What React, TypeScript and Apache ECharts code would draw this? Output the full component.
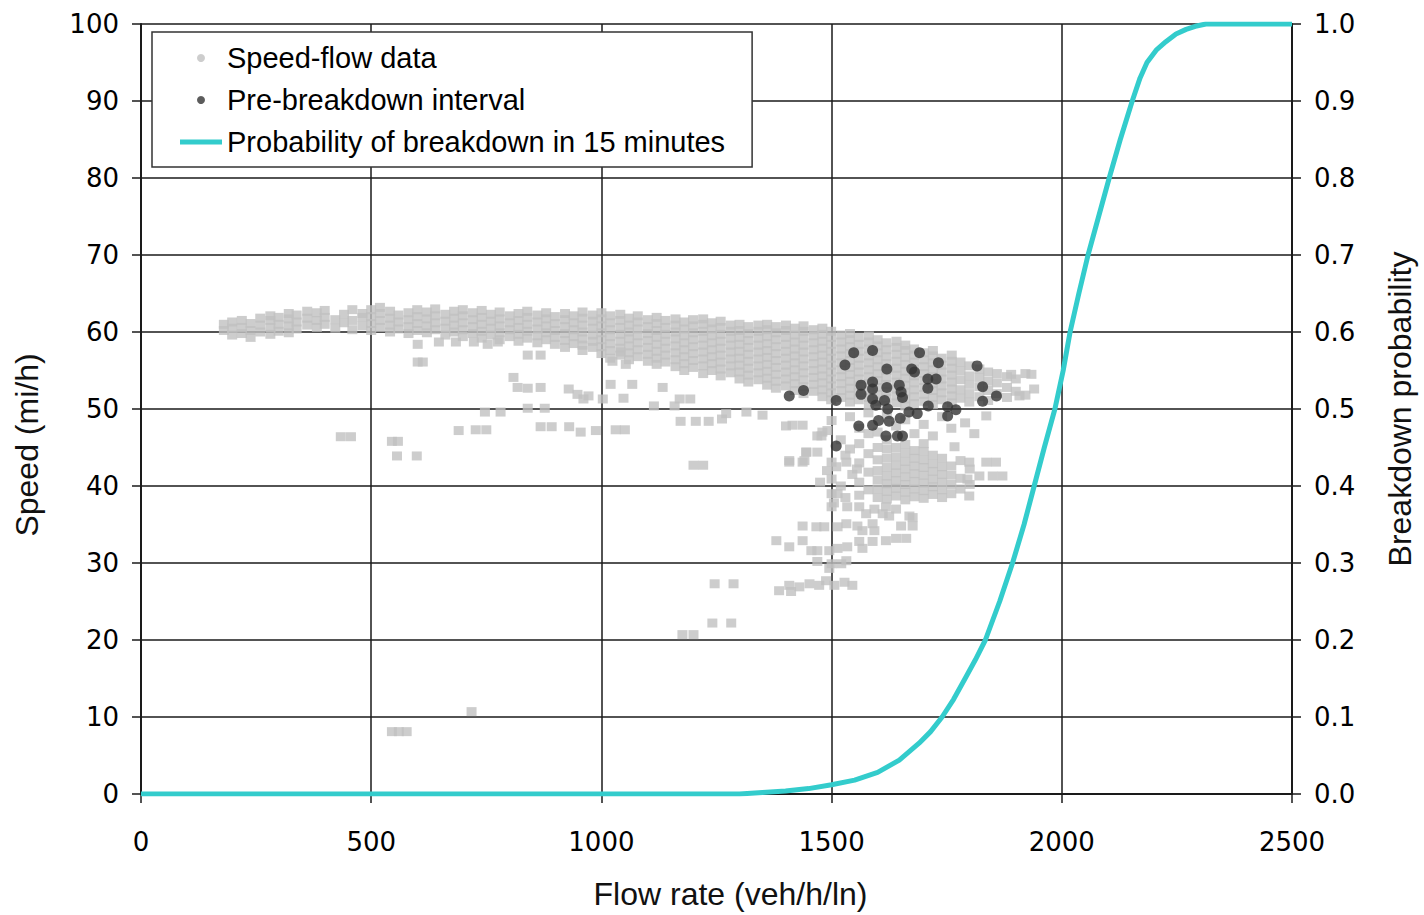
import React, { useEffect, useRef } from "react";
import * as echarts from "echarts";

// Main uncongested speed-flow band: [flow, speeds at that flow]
const bandColumns: [number, number[]][] = [
  [180, [60.2, 61.0]],
  [198, [59.6, 60.5, 61.3]],
  [219, [59.8, 60.6, 61.5]],
  [238, [59.3, 60.2, 61.1]],
  [259, [60.0, 60.9, 61.8]],
  [281, [59.7, 60.6, 61.5, 62.1]],
  [299, [60.1, 61.0, 61.9]],
  [321, [59.9, 60.8, 61.7, 62.4]],
  [338, [60.4, 61.3, 62.2]],
  [361, [60.9, 61.8, 62.7]],
  [382, [60.6, 61.5, 62.5]],
  [399, [61.0, 61.9, 62.8]],
  [422, [60.5, 61.6]],
  [441, [61.2, 62.3]],
  [459, [60.3, 61.5, 62.9]],
  [481, [60.8, 61.9, 62.4]],
  [500, [60.2, 61.1, 62.0, 62.9]],
  [519, [60.6, 61.5, 62.4, 63.2]],
  [541, [60.0, 60.9, 61.8, 62.7]],
  [559, [60.4, 61.3, 62.2]],
  [581, [59.8, 60.7, 61.6, 62.5]],
  [600, [60.2, 61.1, 62.0, 62.9]],
  [621, [59.9, 60.8, 61.7, 62.6]],
  [639, [60.3, 61.2, 62.1, 63.0]],
  [661, [59.6, 60.5, 61.4, 62.3]],
  [680, [60.0, 60.9, 61.8, 62.7]],
  [699, [59.4, 60.3, 61.2, 62.1, 62.9]],
  [721, [59.8, 60.7, 61.6, 62.5]],
  [740, [59.2, 60.1, 61.0, 61.9, 62.8]],
  [760, [59.6, 60.5, 61.4, 62.3]],
  [779, [59.0, 59.9, 60.8, 61.7, 62.6]],
  [801, [59.4, 60.3, 61.2, 62.1]],
  [820, [58.8, 59.7, 60.6, 61.5, 62.4]],
  [839, [59.2, 60.1, 61.0, 61.9, 62.7]],
  [861, [58.6, 59.5, 60.4, 61.3, 62.2]],
  [880, [59.0, 59.9, 60.8, 61.7, 62.5]],
  [899, [58.4, 59.3, 60.2, 61.1, 62.0]],
  [921, [58.0, 58.9, 59.8, 60.7, 61.6, 62.4]],
  [940, [58.5, 59.4, 60.3, 61.2, 62.1]],
  [959, [57.6, 58.3, 59.1, 60.0, 60.9, 61.8, 62.6]],
  [981, [58.0, 58.8, 59.6, 60.5, 61.4, 62.2]],
  [1000, [57.2, 58.1, 59.0, 59.9, 60.8, 61.7, 62.5]],
  [1019, [56.6, 57.6, 58.5, 59.4, 60.3, 61.2, 62.1]],
  [1041, [57.0, 57.9, 58.8, 59.7, 60.6, 61.5, 62.3]],
  [1060, [56.4, 57.3, 58.2, 59.1, 60.0, 60.9, 61.8]],
  [1079, [56.8, 57.7, 58.6, 59.5, 60.4, 61.3, 62.1]],
  [1101, [56.2, 57.1, 58.0, 58.9, 59.8, 60.7, 61.6]],
  [1120, [55.8, 56.6, 57.5, 58.4, 59.3, 60.2, 61.1, 61.9]],
  [1139, [56.1, 57.0, 57.9, 58.8, 59.7, 60.6, 61.5]],
  [1161, [55.5, 56.4, 57.3, 58.2, 59.1, 60.0, 60.9, 61.7]],
  [1180, [55.0, 55.9, 56.8, 57.7, 58.6, 59.5, 60.4, 61.3]],
  [1199, [55.4, 56.3, 57.2, 58.1, 59.0, 59.9, 60.8, 61.6]],
  [1221, [54.6, 55.6, 56.5, 57.4, 58.3, 59.2, 60.1, 61.0, 61.7]],
  [1240, [55.0, 55.9, 56.8, 57.7, 58.6, 59.5, 60.4, 61.2]],
  [1259, [54.3, 55.2, 56.1, 57.0, 57.9, 58.8, 59.7, 60.6, 61.4]],
  [1281, [54.7, 55.6, 56.5, 57.4, 58.3, 59.2, 60.1, 60.9]],
  [1300, [53.9, 54.8, 55.7, 56.6, 57.5, 58.4, 59.3, 60.2, 61.0]],
  [1319, [53.5, 54.4, 55.3, 56.2, 57.1, 58.0, 58.9, 59.8, 60.7]],
  [1341, [53.8, 54.7, 55.6, 56.5, 57.4, 58.3, 59.2, 60.1, 60.9]],
  [1360, [53.1, 54.0, 54.9, 55.8, 56.7, 57.6, 58.5, 59.4, 60.3, 61.0]],
  [1379, [52.7, 53.6, 54.5, 55.4, 56.3, 57.2, 58.1, 59.0, 59.9, 60.7]],
  [1401, [53.0, 53.9, 54.8, 55.7, 56.6, 57.5, 58.4, 59.3, 60.2, 60.9]],
  [1420, [52.4, 53.3, 54.2, 55.1, 56.0, 56.9, 57.8, 58.7, 59.6, 60.5]],
  [1439, [52.0, 52.9, 53.8, 54.7, 55.6, 56.5, 57.4, 58.3, 59.2, 60.1, 60.8]],
  [1461, [52.3, 53.2, 54.1, 55.0, 55.9, 56.8, 57.7, 58.6, 59.5, 60.3]],
  [1480, [51.6, 52.5, 53.4, 54.3, 55.2, 56.1, 57.0, 57.9, 58.8, 59.7, 60.5]],
  [1499, [51.2, 52.1, 53.0, 53.9, 54.8, 55.7, 56.6, 57.5, 58.4, 59.3, 60.1]],
  [1521, [51.5, 52.4, 53.3, 54.2, 55.1, 56.0, 56.9, 57.8, 58.7, 59.6]],
  [1540, [50.9, 51.8, 52.7, 53.6, 54.5, 55.4, 56.3, 57.2, 58.1, 59.0, 59.8]],
  [1559, [51.2, 52.1, 53.0, 53.9, 54.8, 55.7, 56.6, 57.5, 58.4, 59.3]],
  [1581, [50.6, 51.5, 52.4, 53.3, 54.2, 55.1, 56.0, 56.9, 57.8, 58.7, 59.5]],
  [1600, [51.0, 51.9, 52.8, 53.7, 54.6, 55.5, 56.4, 57.3, 58.2, 59.0]],
  [1619, [50.5, 51.4, 52.3, 53.2, 54.1, 55.0, 55.9, 56.8, 57.7, 58.6]],
  [1641, [50.8, 51.7, 52.6, 53.5, 54.4, 55.3, 56.2, 57.1, 58.0, 58.8]],
  [1660, [50.4, 51.3, 52.2, 53.1, 54.0, 54.9, 55.8, 56.7, 57.6, 58.3]],
  [1679, [50.7, 51.6, 52.5, 53.4, 54.3, 55.2, 56.1, 57.0, 57.8]],
  [1701, [51.0, 51.9, 52.8, 53.7, 54.6, 55.5, 56.4, 57.3]],
  [1720, [50.6, 51.5, 52.4, 53.3, 54.2, 55.1, 56.0, 56.9, 57.6]],
  [1739, [51.2, 52.1, 53.0, 53.9, 54.8, 55.7, 56.6]],
  [1761, [50.8, 51.7, 52.6, 53.5, 54.4, 55.3, 56.2, 57.0]],
  [1780, [51.4, 52.5, 53.8, 55.0, 56.1]],
  [1799, [50.9, 52.0, 53.2, 54.3, 55.6]],
  [1821, [51.6, 52.9, 54.1, 55.2]],
  [1840, [51.1, 52.4, 53.6, 54.8]],
  [1859, [52.0, 53.4, 54.6]],
  [1881, [51.5, 52.8, 54.2]],
  [1900, [52.3, 53.9]],
  [1921, [51.8, 54.6]],
  [1940, [52.6]],
];

// Congested cluster (below the band): [flow, speeds]
const congestedColumns: [number, number[]][] = [
  [1560, [38.8, 40.5, 43.0, 45.5]],
  [1580, [39.5, 41.8, 44.2, 46.8]],
  [1600, [38.5, 39.6, 40.8, 42.0, 43.4, 45.0]],
  [1620, [38.3, 39.3, 40.3, 41.3, 42.4, 43.6, 44.8, 46.0]],
  [1640, [38.7, 39.7, 40.7, 41.7, 42.7, 43.8, 45.0]],
  [1660, [38.2, 39.2, 40.2, 41.2, 42.2, 43.2, 44.3, 45.4]],
  [1680, [38.6, 39.6, 40.6, 41.6, 42.6, 43.6, 44.6]],
  [1700, [38.4, 39.4, 40.4, 41.4, 42.4, 43.4, 44.5, 45.5]],
  [1720, [38.9, 39.9, 40.9, 41.9, 42.9, 44.0]],
  [1740, [38.5, 39.5, 40.5, 41.5, 42.5, 43.6]],
  [1760, [39.0, 40.2, 41.4, 42.6]],
  [1780, [39.6, 41.0, 43.3]],
  [1800, [40.2, 42.2]],
];

// Scattered speed-flow observations: [flow, speed]
const scatteredGray: [number, number][] = [
  [601, 58.4], [647, 58.7], [684, 58.7], [723, 58.7], [753, 58.4], [775, 58.7],
  [601, 56.1], [612, 56.1], [809, 54.1], [818, 52.8], [840, 52.7], [868, 52.8],
  [929, 52.6], [948, 51.9], [972, 51.7], [961, 51.3], [1003, 51.3], [1048, 51.4],
  [1020, 53.2], [1067, 53.2], [840, 57.0], [868, 57.0], [1024, 56.2], [1053, 55.8],
  [1042, 57.4], [747, 49.6], [781, 49.6], [840, 50.1], [877, 50.1], [690, 47.2],
  [727, 47.3], [750, 47.3], [868, 47.7], [892, 47.7], [930, 47.7], [955, 47.0],
  [988, 47.2], [1031, 47.3], [1051, 47.3], [1114, 50.4], [1159, 50.4], [1172, 48.4],
  [1205, 48.4], [1233, 48.4], [1262, 48.7], [1271, 49.4], [1200, 42.7], [1221, 42.7],
  [434, 46.4], [456, 46.4], [545, 45.8], [558, 45.8], [556, 43.9], [599, 43.9],
  [1246, 27.3], [1287, 27.3], [1241, 22.2], [1282, 22.2], [1176, 20.7], [1200, 20.7],
  [718, 10.7], [545, 8.1], [560, 8.1], [577, 8.1],
  [1133, 52.8], [1170, 51.3], [1193, 51.3], [1315, 49.6], [1350, 49.2], [1415, 47.9],
  [1437, 47.9], [1469, 46.5], [1445, 44.4], [1408, 43.1], [1437, 43.1], [1401, 47.8],
  [1890, 54.5], [1934, 54.5], [1908, 51.7], [1836, 49.1], [1857, 43.1], [1836, 43.1],
  [1871, 41.3], [1850, 41.3], [1821, 41.3], [1795, 40.9], [1799, 38.7], [1799, 43.1],
  [1767, 45.1], [1676, 35.9], [1662, 33.2],
  [1480, 47.0], [1500, 48.5], [1520, 46.0], [1540, 49.0], [1560, 47.5], [1580, 49.5],
  [1600, 47.0], [1620, 49.3], [1640, 47.8], [1660, 48.6], [1680, 46.8], [1700, 48.0],
  [1720, 46.5], [1740, 49.0], [1760, 47.5], [1790, 48.2], [1810, 46.8],
  [1475, 40.5], [1490, 42.0], [1520, 40.0], [1540, 44.8], [1530, 38.5], [1555, 42.2],
  [1505, 37.8], [1530, 44.0], [1545, 41.5], [1510, 42.5],
  [1408, 43.3], [1441, 43.3], [1445, 44.4], [1469, 44.4], [1478, 46.5], [1491, 47.2],
  [1500, 43.1], [1532, 43.1], [1500, 40.9], [1500, 39.0], [1513, 39.0], [1500, 37.3],
  [1534, 37.3], [1560, 37.3], [1575, 36.4], [1593, 37.0], [1618, 37.3], [1640, 37.0],
  [1611, 36.4], [1625, 36.1], [1669, 36.1], [1676, 34.8], [1651, 34.8], [1589, 35.1],
  [1556, 34.8], [1532, 35.1], [1513, 34.7], [1484, 34.7], [1467, 34.7], [1437, 34.8],
  [1567, 34.2], [1593, 34.2], [1640, 33.2], [1618, 32.9], [1589, 32.8], [1560, 32.8],
  [1534, 32.1], [1513, 31.9], [1495, 31.6], [1469, 31.6], [1456, 31.6], [1437, 32.9],
  [1408, 32.1], [1380, 32.9], [1567, 31.9], [1469, 30.2], [1500, 29.9], [1521, 29.9],
  [1532, 30.3], [1495, 29.3], [1488, 27.7], [1473, 27.1], [1452, 27.3], [1430, 26.9],
  [1408, 27.1], [1386, 26.4], [1412, 26.3], [1506, 27.1], [1528, 27.5], [1545, 27.1],
];

// Pre-breakdown intervals: [flow, speed]
const preBreakdown: [number, number][] = [
  [1408, 51.7], [1439, 52.4], [1529, 55.7], [1548, 57.3], [1589, 57.6], [1691, 57.3],
  [1620, 55.2], [1674, 55.2], [1680, 54.8], [1732, 56.0], [1816, 55.6], [1709, 53.9],
  [1727, 53.9], [1709, 52.7], [1828, 52.9], [1858, 51.7], [1828, 51.0], [1564, 53.1],
  [1589, 53.5], [1589, 52.6], [1620, 52.8], [1647, 53.1], [1651, 52.2], [1654, 51.5],
  [1564, 51.9], [1510, 51.1], [1589, 51.3], [1596, 50.5], [1615, 51.1], [1622, 50.0],
  [1668, 49.6], [1686, 49.4], [1710, 50.4], [1752, 50.3], [1770, 49.9], [1752, 49.1],
  [1559, 47.8], [1589, 47.9], [1602, 48.5], [1625, 48.4], [1649, 48.8], [1618, 46.5],
  [1643, 46.5], [1654, 46.5], [1510, 45.2],
];

// Probability of breakdown in 15 minutes
const probFlow = [0, 1300, 1350, 1400, 1450, 1500, 1550, 1600, 1647, 1690, 1715, 1740, 1765, 1790, 1812, 1834, 1865, 1893, 1918, 1940, 1962, 1985, 2003, 2018, 2037, 2057, 2080, 2103, 2127, 2153, 2170, 2185, 2205, 2226, 2248, 2270, 2290, 2313, 2500];
const probValue = [0, 0, 0.002, 0.004, 0.007, 0.012, 0.018, 0.028, 0.044, 0.066, 0.081, 0.1, 0.123, 0.15, 0.174, 0.2, 0.25, 0.3, 0.35, 0.4, 0.45, 0.5, 0.55, 0.6, 0.65, 0.7, 0.75, 0.8, 0.85, 0.9, 0.93, 0.95, 0.966, 0.977, 0.987, 0.993, 0.997, 1.0, 1.0];

const SERIES_GRAY = "Speed-flow data";
const SERIES_BLACK = "Pre-breakdown interval";
const SERIES_PROB = "Probability of breakdown in 15 minutes";

export default function App() {
  const ref = useRef<HTMLDivElement>(null);
  useEffect(() => {
    if (!ref.current) return;
    const chart = echarts.init(ref.current, undefined, { renderer: "svg" });
    const grayPts = [
      ...bandColumns.flatMap(([f, ss]) => ss.map((s) => [f, s])),
      ...congestedColumns.flatMap(([f, ss]) => ss.map((s) => [f, s])),
      ...scatteredGray,
    ];
    const probPts = probFlow.map((f, i) => [f, probValue[i]]);
    const tickFont = { fontFamily: "DejaVu Sans", fontSize: 26, color: "#000" };
    const nameFont = { fontFamily: "Liberation Sans", fontSize: 32, color: "#111" };
    const lineCol = "#1a1a1a";
    chart.setOption({
      animation: false,
      backgroundColor: "#fff",
      grid: { left: 141, right: 131, top: 24, bottom: 118 },
      legend: {
        orient: "vertical",
        left: 152,
        top: 32,
        padding: [10, 27, 9, 28],
        itemGap: 10,
        itemWidth: 42,
        itemHeight: 8,
        backgroundColor: "#fff",
        borderColor: "#333",
        borderWidth: 1.5,
        borderRadius: 0,
        textStyle: { fontFamily: "Liberation Sans", fontSize: 29, color: "#000", lineHeight: 32 },
        data: [
          { name: SERIES_GRAY, icon: "circle", itemStyle: { color: "#c0c0c0" } },
          { name: SERIES_BLACK, icon: "circle", itemStyle: { color: "#333333" } },
          { name: SERIES_PROB, icon: "path://M0,0 L42,0 L42,5 L0,5 Z", itemStyle: { color: "#33CCCC" } },
        ],
        z: 20,
      },
      xAxis: {
        type: "value",
        min: 0,
        max: 2500,
        interval: 500,
        name: "Flow rate (veh/h/ln)",
        nameLocation: "middle",
        nameGap: 84,
        nameTextStyle: { ...nameFont, padding: [0, 0, 0, 28] },
        axisLine: { show: true, onZero: false, lineStyle: { color: lineCol, width: 2 } },
        axisTick: { show: true, inside: false, length: 9, lineStyle: { color: lineCol, width: 1.5 } },
        axisLabel: { ...tickFont, margin: 35, formatter: (v: number) => String(v) },
        splitLine: { show: true, lineStyle: { color: lineCol, width: 1.5 } },
      },
      yAxis: [
        {
          type: "value",
          min: 0,
          max: 100,
          interval: 10,
          position: "left",
          name: "Speed (mi/h)",
          nameLocation: "middle",
          nameRotate: 90,
          nameGap: 98,
          nameTextStyle: { ...nameFont, padding: [0, 72, 0, 0] },
          axisLine: { show: true, lineStyle: { color: lineCol, width: 2 } },
          axisTick: { show: true, inside: false, length: 9, lineStyle: { color: lineCol, width: 1.5 } },
          axisLabel: { ...tickFont, margin: 22 },
          splitLine: { show: true, lineStyle: { color: lineCol, width: 1.5 } },
        },
        {
          type: "value",
          min: 0,
          max: 1,
          interval: 0.1,
          position: "right",
          name: "Breakdown probability",
          nameLocation: "middle",
          nameRotate: 90,
          nameGap: 92,
          nameTextStyle: nameFont,
          axisLine: { show: true, lineStyle: { color: lineCol, width: 2 } },
          axisTick: { show: true, inside: false, length: 9, lineStyle: { color: lineCol, width: 1.5 } },
          axisLabel: { ...tickFont, margin: 22, formatter: (v: number) => v.toFixed(1) },
          splitLine: { show: false },
        },
      ],
      series: [
        {
          name: SERIES_GRAY,
          type: "scatter",
          symbol: "rect",
          symbolSize: [10, 9],
          itemStyle: { color: "#c0c0c0" },
          data: grayPts,
          z: 2,
        },
        {
          name: SERIES_BLACK,
          type: "scatter",
          symbol: "circle",
          symbolSize: 11,
          itemStyle: { color: "#333333" },
          data: preBreakdown,
          z: 3,
        },
        {
          name: SERIES_PROB,
          type: "line",
          yAxisIndex: 1,
          showSymbol: false,
          symbol: "none",
          smooth: false,
          lineStyle: { color: "#33CCCC", width: 5, join: "round" },
          itemStyle: { color: "#33CCCC" },
          data: probPts,
          z: 4,
        },
      ],
    });
    return () => chart.dispose();
  }, []);
  return (
    <div
      ref={ref}
      style={{ position: "absolute", left: 0, top: 0, width: 1424, height: 915 }}
    />
  );
}
